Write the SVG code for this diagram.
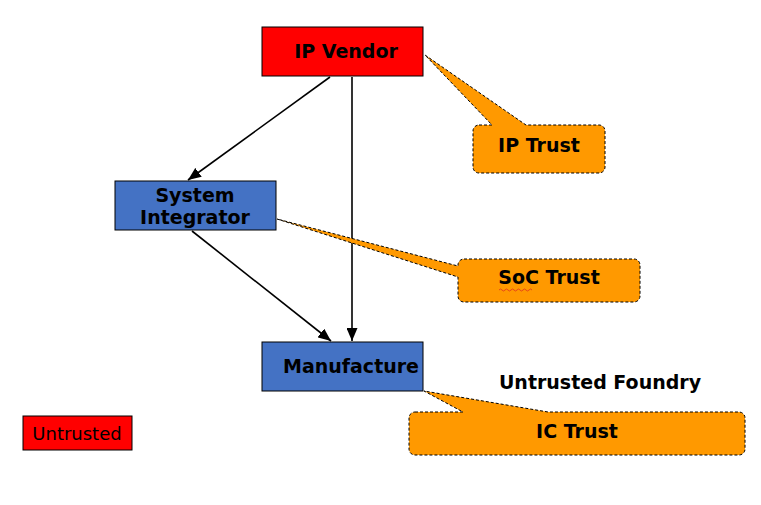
<svg xmlns="http://www.w3.org/2000/svg" width="761" height="505" viewBox="0 0 761 505">
<defs>
<marker id="arr" markerWidth="13" markerHeight="11" refX="13" refY="5.5" orient="auto" markerUnits="userSpaceOnUse">
<path d="M0,0 L13,5.5 L0,11 Z" fill="#000"/>
</marker>
<style>
.node{stroke:#000;stroke-width:1}
.red{fill:#FF0000}
.blue{fill:#4472C4}
.call{fill:#FF9900;stroke:#000;stroke-width:1;stroke-dasharray:3,2}
.t{font-family:"DejaVu Sans",Verdana,sans-serif;font-weight:bold;font-size:19px;fill:#000;text-anchor:middle}
.n{font-family:"DejaVu Sans",Verdana,sans-serif;font-size:18px;fill:#000;text-anchor:middle}
.edge{stroke:#000;stroke-width:1.6;fill:none;marker-end:url(#arr)}
</style>
</defs>
<rect width="761" height="505" fill="#fff"/>
<g id="connectors">
<line class="edge" x1="330" y1="77" x2="188" y2="180"/>
<line class="edge" x1="352" y1="77" x2="352" y2="341"/>
<line class="edge" x1="192" y1="231" x2="331" y2="341"/>
</g>
<g id="ip-trust">
<path class="call" d="M479,125 H492 L425,55 L526,125 H599 A6,6 0 0 1 605,131 V167 A6,6 0 0 1 599,173 H479 A6,6 0 0 1 473,167 V131 A6,6 0 0 1 479,125 Z"/>
<text class="t" x="539" y="152">IP Trust</text>
</g>
<g id="soc-trust">
<path class="call" d="M464,259 H634 A6,6 0 0 1 640,265 V296 A6,6 0 0 1 634,302 H464 A6,6 0 0 1 458,296 V277 L277,219 L458,266 V265 A6,6 0 0 1 464,259 Z"/>
<text class="t" x="549" y="284">SoC Trust</text>
<path d="M499,290 q1.5,-2 3,0 t3,0 t3,0 t3,0 t3,0 t3,0 t3,0 t3,0 t3,0 t3,0 t3,0" fill="none" stroke="#E03020" stroke-width="0.8"/>
</g>
<g id="ic-trust">
<path class="call" d="M415,412 H463 L424,391 L548,412 H739 A6,6 0 0 1 745,418 V449 A6,6 0 0 1 739,455 H415 A6,6 0 0 1 409,449 V418 A6,6 0 0 1 415,412 Z"/>
<text class="t" x="577" y="438">IC Trust</text>
</g>
<g id="ip-vendor">
<rect class="node red" x="262" y="27" width="161" height="49"/>
<text class="t" x="346" y="58">IP Vendor</text>
</g>
<g id="system-integrator">
<rect class="node blue" x="115" y="181" width="161" height="49"/>
<text class="t" x="195" y="202">System</text>
<text class="t" x="195" y="224">Integrator</text>
</g>
<g id="manufacture">
<rect class="node blue" x="262" y="342" width="161" height="49"/>
<text class="t" x="351" y="373">Manufacture</text>
</g>
<g id="untrusted-foundry">
<text class="t" x="600" y="389">Untrusted Foundry</text>
</g>
<g id="legend-untrusted">
<rect class="node red" x="23" y="416" width="109" height="34"/>
<text class="n" x="77" y="440">Untrusted</text>
</g>
</svg>
